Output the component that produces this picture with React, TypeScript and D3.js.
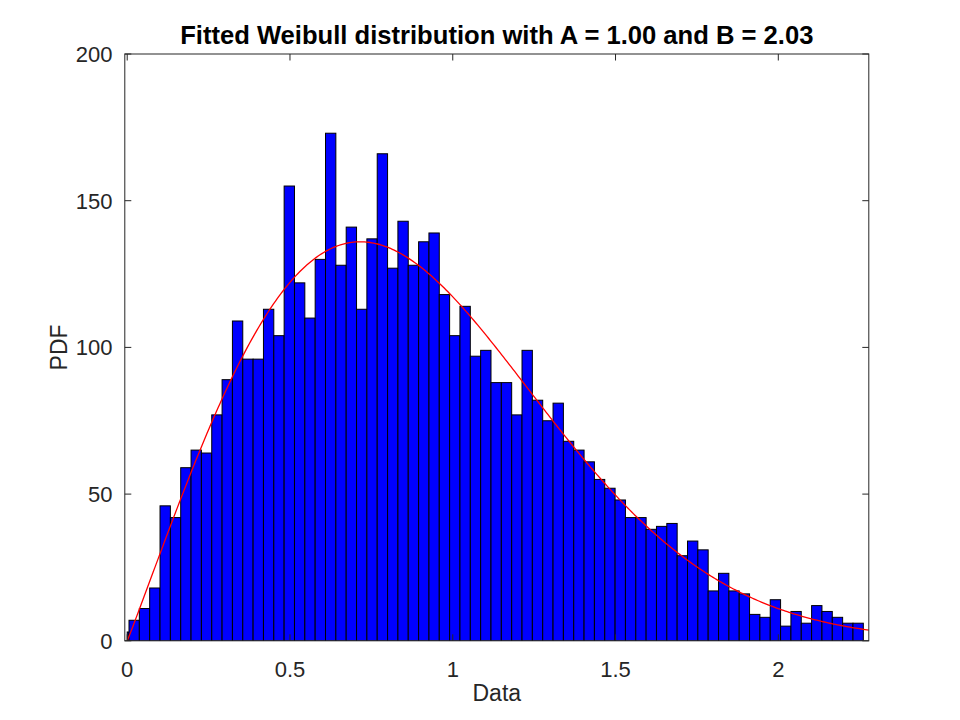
import React from "react";
import * as d3 from "d3";

// Histogram counts (first value is the narrow partial bin starting at 0)
const counts: number[] = [
  3, 7, 11, 18, 46, 42, 59, 65, 64, 77, 89, 109, 96, 96, 113, 104, 155, 122, 110, 130,
  173, 128, 141, 113, 137, 166, 127, 143, 128, 136, 139, 118, 104, 114, 97, 99, 88, 88, 77, 99,
  82, 75, 81, 68, 65, 61, 55, 52, 48, 42, 42, 38, 39, 40, 29, 34, 31, 17, 23, 17,
  16, 9, 8, 14, 5, 10, 6, 12, 10, 8, 6, 6,
];
const binStart = 0.0055; // left edge of the first full bin
const binWidth = 0.03177;
const weibullA = 1.0;
const weibullB = 2.03;
const fitScale = 157; // N * bin width used to scale the fitted PDF
const xDomain: [number, number] = [-0.0074, 2.278];
const yDomain: [number, number] = [0, 200];
const xTicks = [0, 0.5, 1, 1.5, 2];
const yTicks = [0, 50, 100, 150, 200];
const titleText = "Fitted Weibull distribution with A = 1.00 and B = 2.03";

const W = 960;
const H = 720;
const left = 124.8;
const right = 868.8;
const top = 54;
const bottom = 640.8;

export default function App() {
  const x = d3.scaleLinear().domain(xDomain).range([left, right]);
  const y = d3.scaleLinear().domain(yDomain).range([bottom, top]);

  const bars = counts.map((c, i) => {
    const x0 = i === 0 ? 0 : binStart + (i - 1) * binWidth;
    const x1 = binStart + i * binWidth;
    return { x0, x1, c };
  });

  const pdf = (t: number) =>
    t <= 0 ? 0 : (weibullB / weibullA) * Math.pow(t / weibullA, weibullB - 1) * Math.exp(-Math.pow(t / weibullA, weibullB));
  const curvePts: [number, number][] = d3.range(0, 401).map((k) => {
    const t = (xDomain[1] * k) / 400;
    return [t, pdf(t) * fitScale];
  });
  const line = d3
    .line<[number, number]>()
    .x((d) => x(d[0]))
    .y((d) => y(d[1]));

  const axisColor = "#262626";
  const font = "'Liberation Sans', Arial, Helvetica, sans-serif";
  const tickLen = 6.5;

  return (
    <svg width={W} height={H} style={{ position: "absolute", left: 0, top: 0, background: "#fff" }}>
      <rect x={0} y={0} width={W} height={H} fill="#fff" />
      <defs>
        <clipPath id="plotClip">
          <rect x={left} y={top} width={right - left} height={bottom - top} />
        </clipPath>
      </defs>
      <g clipPath="url(#plotClip)">
        {bars.map((b, i) => (
          <rect
            key={i}
            x={x(b.x0)}
            y={y(b.c)}
            width={x(b.x1) - x(b.x0)}
            height={y(0) - y(b.c)}
            fill="#0000ff"
            stroke="#000"
            strokeWidth={1}
          />
        ))}
        <path d={line(curvePts) || ""} fill="none" stroke="#ff0000" strokeWidth={1.3} />
      </g>
      {/* axes box */}
      <rect x={left} y={top} width={right - left} height={bottom - top} fill="none" stroke={axisColor} strokeWidth={1} />
      {xTicks.map((t) => (
        <g key={"xt" + t}>
          <line x1={x(t)} x2={x(t)} y1={bottom} y2={bottom - tickLen} stroke={axisColor} strokeWidth={1} />
          <line x1={x(t)} x2={x(t)} y1={top} y2={top + tickLen} stroke={axisColor} strokeWidth={1} />
          <text x={x(t)} y={676.5} textAnchor="middle" fontFamily={font} fontSize={22} fill={axisColor}>
            {String(t)}
          </text>
        </g>
      ))}
      {yTicks.map((t) => (
        <g key={"yt" + t}>
          <line x1={left} x2={left + tickLen} y1={y(t)} y2={y(t)} stroke={axisColor} strokeWidth={1} />
          <line x1={right} x2={right - tickLen} y1={y(t)} y2={y(t)} stroke={axisColor} strokeWidth={1} />
          <text x={112.5} y={y(t)} dy="0.36em" textAnchor="end" fontFamily={font} fontSize={22} fill={axisColor}>
            {String(t)}
          </text>
        </g>
      ))}
      <text x={(left + right) / 2} y={701} textAnchor="middle" fontFamily={font} fontSize={23} fill={axisColor}>
        Data
      </text>
      <text
        transform={`translate(66.5, ${(top + bottom) / 2}) rotate(-90)`}
        textAnchor="middle"
        fontFamily={font}
        fontSize={23}
        fill={axisColor}
      >
        PDF
      </text>
      <text x={(left + right) / 2} y={43.5} textAnchor="middle" fontFamily={font} fontSize={25.6} fontWeight="bold" fill="#000">
        {titleText}
      </text>
    </svg>
  );
}
